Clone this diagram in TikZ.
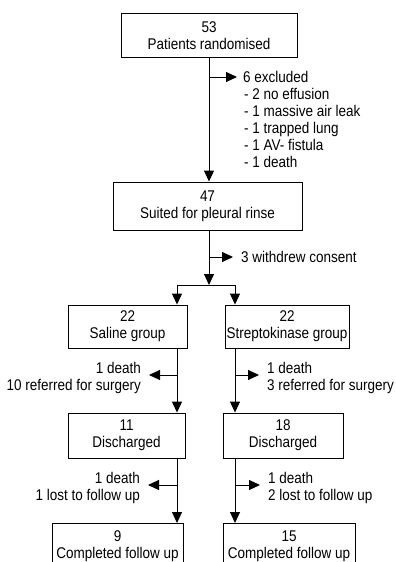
\documentclass[tikz,border=0pt]{standalone}
\usepackage{fontspec}
\setmainfont{Liberation Sans}[FakeStretch=0.87]
\usetikzlibrary{arrows.meta}
\tikzset{
  txt/.style={inner sep=0pt, font=\fontsize{15.5}{17}\selectfont},
  box/.style={txt, draw, line width=0.9pt, align=center},
  lbl/.style={txt, align=left},
  lblr/.style={txt, align=right},
  line/.style={line width=1pt},
  arr/.style={line width=1pt, -{Triangle[length=11pt,width=10pt]}}
}
\begin{document}
\begin{tikzpicture}[x=1pt,y=-1pt]
\useasboundingbox (0,0) rectangle (396,562);
\clip (0,0) rectangle (396,562);
% boxes
\node[box, minimum width=176pt, minimum height=44pt] (n53) at (209,35.5) {53\\Patients randomised};
\node[box, minimum width=189pt, minimum height=48pt] (n47) at (207.5,206) {47\\Suited for pleural rinse};
\node[box, minimum width=119pt, minimum height=43pt] (sal) at (127.5,326.5) {22\\Saline group};
\node[box, minimum width=124pt, minimum height=43pt] (str) at (287,326.5) {22\\Streptokinase group};
\node[box, minimum width=117pt, minimum height=45pt] (dl) at (126.5,435.5) {11\\Discharged};
\node[box, minimum width=120pt, minimum height=45pt] (dr) at (283,435.5) {18\\Discharged};
\node[box, minimum width=131pt, minimum height=46pt, anchor=north] (cl) at (117.5,523) {9\\Completed follow up};
\node[box, minimum width=132pt, minimum height=46pt, anchor=north] (cr) at (289,523) {15\\Completed follow up};
% side labels
\node[lbl, anchor=north west] (ex) at (243,71) {6 excluded\\\kern1pt- 2 no effusion\\\kern1pt- 1 massive air leak\\\kern1pt- 1 trapped lung\\\kern1pt- 1 AV- fistula\\\kern1pt- 1 death};
\node[lbl, anchor=north west] (wd) at (241,251) {3 withdrew consent};
\node[lblr, anchor=north east] (ls) at (141,362) {1 death\\10 referred for surgery};
\node[lbl, anchor=north west] (rs) at (267,362) {1 death\\3 referred for surgery};
\node[lblr, anchor=north east] (ld) at (140,472) {1 death\\1 lost to follow up};
\node[lbl, anchor=north west] (rd) at (268,472) {1 death\\2 lost to follow up};
% main flow
\coordinate (bm) at (209,285);
\coordinate (bl) at (177,285);
\coordinate (br) at (235,285);
\draw[arr] (n53.south) -- (n53.south |- n47.north);
\draw[arr] (n47.south -| bm) -- (bm);
\draw[line] (bl) -- (br);
\draw[arr] (bl) -- (bl |- sal.north);
\draw[arr] (br) -- (br |- str.north);
\draw[arr] (sal.south -| bl) -- (dl.north -| bl);
\draw[arr] (str.south -| br) -- (dr.north -| br);
\draw[arr] (dl.south -| bl) -- (cl.north -| bl);
\draw[arr] (dr.south -| br) -- (cr.north -| br);
% side arrows
\coordinate (s1) at (209,77);   \coordinate (t1) at (237,77);
\coordinate (s2) at (209,257);  \coordinate (t2) at (233,257);
\coordinate (s3) at (177,375);  \coordinate (t3) at (149,375);
\coordinate (s4) at (235,375);  \coordinate (t4) at (259,375);
\coordinate (s5) at (177,485);  \coordinate (t5) at (148,485);
\coordinate (s6) at (235,485);  \coordinate (t6) at (260,485);
\foreach \i in {1,...,6} {\draw[arr] (s\i) -- (t\i);}
\end{tikzpicture}
\end{document}
